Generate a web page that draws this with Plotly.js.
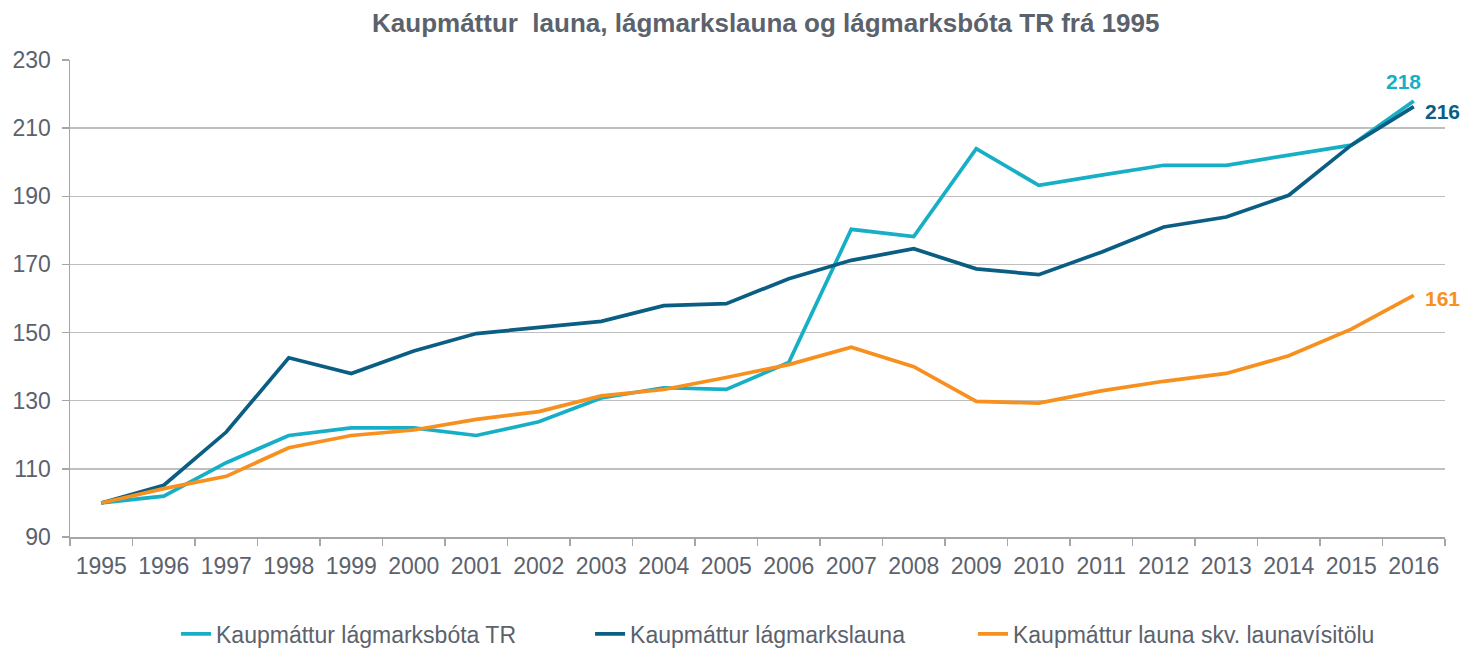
<!DOCTYPE html>
<html>
<head>
<meta charset="utf-8">
<script src="https://cdn.plot.ly/plotly-3.0.1.min.js"></script>
<style>html,body{margin:0;padding:0;background:#fff;}#chart{width:1462px;height:648px;}</style>
</head>
<body>
<div id="chart"></div>
<script>
const years = ["1995","1996","1997","1998","1999","2000","2001","2002","2003","2004","2005","2006","2007","2008","2009","2010","2011","2012","2013","2014","2015","2016"];
const botaTR = [100, 102, 111.8, 119.8, 122, 122, 119.8, 123.8, 130.8, 133.8, 133.3, 141.2, 180.3, 178.2, 204, 193.2, 196.2, 199.1, 199.1, 202, 205, 218];
const lagmarkslaun = [100, 105.2, 120.8, 142.6, 138, 144.6, 149.7, 151.5, 153.3, 157.9, 158.5, 165.8, 171.2, 174.6, 168.7, 167, 173.6, 181, 183.9, 190.3, 205, 216.3];
const launavisitala = [100, 104.2, 107.8, 116.2, 119.8, 121.4, 124.5, 126.8, 131.4, 133.3, 136.8, 140.6, 145.7, 140, 129.8, 129.3, 132.9, 135.7, 138, 143.2, 151, 160.9];
const seriesNames = ["Kaupmáttur lágmarksbóta TR", "Kaupmáttur lágmarkslauna", "Kaupmáttur launa skv. launavísitölu"];
const yTicks = [90, 110, 130, 150, 170, 190, 210, 230];
const chartTitle = "Kaupmáttur  launa, lágmarkslauna og lágmarksbóta TR frá 1995";

const colors = ["#16AFC6", "#0B5E83", "#F7901E"];
const allSeries = [botaTR, lagmarkslaun, launavisitala];
const textColor = "#5B626C";
const font = "Liberation Sans, Arial, sans-serif";
const legendIds = ["legend", "legend2", "legend3"];
const legendX = [0.1204, 0.4036, 0.6655];

const traces = allSeries.map((vals, i) => ({
  type: "scatter", mode: "lines", x: years, y: vals, name: seriesNames[i],
  line: {color: colors[i], width: 3.7}, hoverinfo: "skip", legend: legendIds[i]
}));

const last = years.length - 1;
const labelShifts = [{xs: -10, ys: 19, xa: "center"}, {xs: 9, ys: -5, xa: "left"}, {xs: 9, ys: -3, xa: "left"}];
const annotations = allSeries.map((vals, i) => ({
  x: last, y: vals[last], xref: "x", yref: "y",
  text: "<b>" + Math.round(vals[last]) + "</b>", showarrow: false,
  xanchor: labelShifts[i].xa, yanchor: "middle",
  xshift: labelShifts[i].xs, yshift: labelShifts[i].ys,
  font: {family: font, size: 21, color: colors[i]}
}));

const layout = {
  width: 1462, height: 648,
  margin: {l: 70, r: 17, t: 60, b: 111},
  paper_bgcolor: "#ffffff", plot_bgcolor: "#ffffff",
  font: {family: font, color: textColor},
  title: {text: "<b>" + chartTitle + "</b>", x: 0.506, xref: "paper", y: 0.965, yanchor: "middle",
          font: {family: font, size: 26, color: textColor}},
  xaxis: {
    type: "category", range: [-0.5, 21.5], tickmode: "array", tickvals: years, ticktext: years,
    tickson: "boundaries", ticks: "outside", ticklen: 7, tickcolor: "#A6A6A6", tickwidth: 1.5,
    showline: true, linecolor: "#A6A6A6", linewidth: 1.5, showgrid: false,
    tickfont: {family: font, size: 23, color: textColor}, ticklabelstandoff: 8,
    fixedrange: true
  },
  yaxis: {
    range: [90, 230], tickmode: "array", tickvals: yTicks, ticktext: yTicks.map(String),
    ticks: "outside", ticklen: 7, tickcolor: "#A6A6A6", tickwidth: 1.5,
    showline: true, linecolor: "#A6A6A6", linewidth: 1.5,
    showgrid: true, gridcolor: "#BFBFBF", gridwidth: 1.5, zeroline: false,
    tickfont: {family: font, size: 23, color: textColor}, ticklabelstandoff: 6,
    fixedrange: true
  },
  annotations: annotations,
  showlegend: true
};
legendIds.forEach((id, i) => {
  layout[id] = {orientation: "h", xref: "container", yref: "container",
    x: legendX[i], xanchor: "left", y: 0.0216, yanchor: "middle",
    font: {family: font, size: 23, color: textColor}, bgcolor: "rgba(0,0,0,0)"};
});

Plotly.newPlot("chart", traces, layout, {displayModeBar: false, staticPlot: true});
</script>
</body>
</html>
